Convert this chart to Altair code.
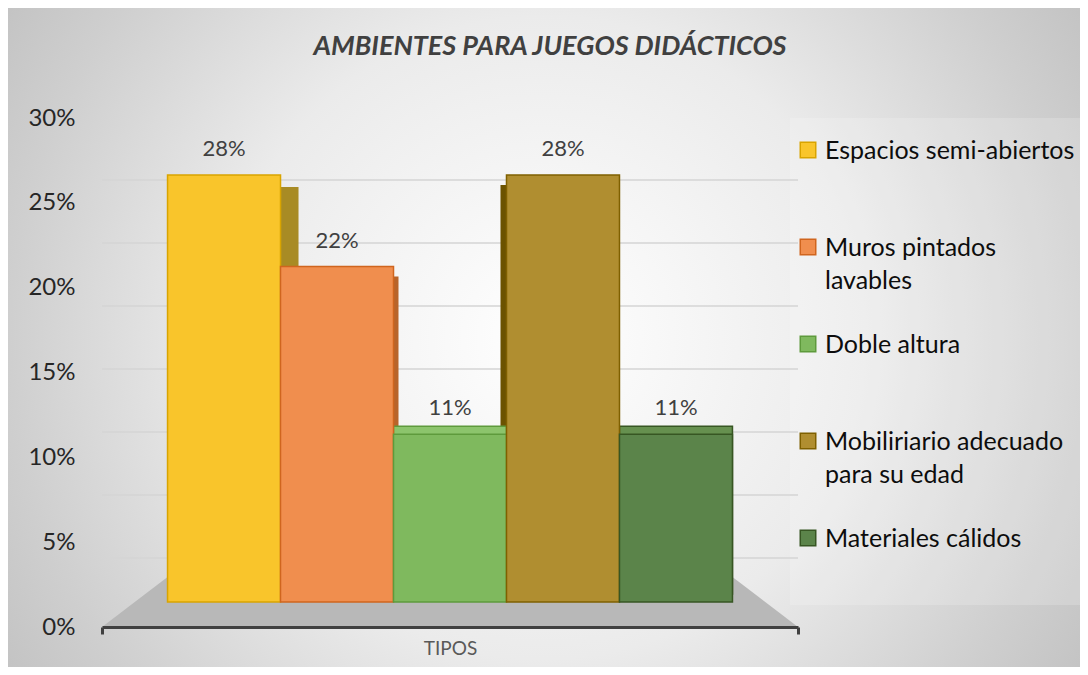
import altair as alt
import pandas as pd

# ---------------- data ----------------
titulo = "AMBIENTES PARA JUEGOS DIDÁCTICOS"
eje_x_titulo = "TIPOS"
tipos = [
    "Espacios semi-abiertos",
    "Muros pintados lavables",
    "Doble altura",
    "Mobiliriario adecuado para su edad",
    "Materiales cálidos",
]
etiquetas_leyenda = [
    "Espacios semi-abiertos",
    "Muros pintados\nlavables",
    "Doble altura",
    "Mobiliriario adecuado\npara su edad",
    "Materiales cálidos",
]
valores = [0.28, 0.22, 0.11, 0.28, 0.11]
ticks_y = [0, 0.05, 0.10, 0.15, 0.20, 0.25, 0.30]

# ---------------- styles ----------------
colores_frente = ["#F9C52B", "#F08E4E", "#7FB95E", "#B08E30", "#5B844A"]
colores_borde = ["#D9A400", "#D0651E", "#5E9A3C", "#7F6000", "#375623"]
colores_lado = ["#A88B24", "#B8642A", "#8CC46C", "#6B5200", "#66904F"]

W, H = 696, 509
FONT = "Lato"
N = len(tipos)
PAD_OUT = 0.58
X_MAX = N + 2 * PAD_OUT
dominio_eje = [0, 0.30]
dominio_barras = [-0.0164, 0.3174]   # 3D front-face scale
dominio_pared = [-0.0548, 0.3492]    # back-wall gridline scale
piso_alto = 0.0164

# frame of the whole chart, relative to the plot origin
FR_X0, FR_X1, FR_Y0, FR_Y1 = -94, 978, -110, 549

df = pd.DataFrame({"tipo": tipos, "leyenda": etiquetas_leyenda, "valor": valores})
df_uno = pd.DataFrame({"titulo": [titulo]})
df_ticks = pd.DataFrame({"t": ticks_y})

xs = alt.Scale(domain=[0, X_MAX], nice=False, zero=False)
x_axis = alt.Axis(
    values=[0, X_MAX], labels=False, title=eje_x_titulo, titleFontSize=19,
    titleFont=FONT, titleFontWeight="normal", titleColor="#595959", titlePadding=4,
    domainColor="#404040", domainWidth=3, tickColor="#404040", tickWidth=3,
    tickSize=7, grid=False, zindex=1,
)
ys_bar = alt.Scale(domain=dominio_barras, nice=False, zero=False)

# background with radial gradient
fondo = alt.Chart(df_uno).mark_rect(
    fill={
        "gradient": "radial", "x1": 0.5, "y1": 0.5, "x2": 0.5, "y2": 0.5,
        "r1": 0, "r2": 0.6,
        "stops": [
            {"offset": 0, "color": "#ffffff"},
            {"offset": 0.5, "color": "#ebebeb"},
            {"offset": 0.83, "color": "#cfcfcf"},
            {"offset": 1, "color": "#c2c2c2"},
        ],
    }
).encode(
    x=alt.value(FR_X0), x2=alt.value(FR_X1), y=alt.value(FR_Y0), y2=alt.value(FR_Y1)
)

# legend box
caja = alt.Chart(df_uno).mark_rect(fill="#ffffff", opacity=0.18).encode(
    x=alt.value(W - 8), x2=alt.value(FR_X1), y=alt.value(0), y2=alt.value(487)
)

# chart title as text
titulo_txt = alt.Chart(df_uno).mark_text(
    fontSize=27, font=FONT, fontStyle="italic", fontWeight="bold",
    color="#404040", align="center", baseline="middle",
).encode(x=alt.value(448), y=alt.value(-71), text="titulo:N")

# y axis (labels only)
eje = alt.Chart(df).mark_point(opacity=0).encode(
    y=alt.Y(
        "valor:Q",
        scale=alt.Scale(domain=dominio_eje, nice=False),
        axis=alt.Axis(
            values=ticks_y, format=".0%", title=None, domain=False, ticks=False,
            grid=False, labelFontSize=24, labelColor="#262626", labelFont=FONT,
            labelPadding=27, zindex=1,
        ),
    )
)

# back wall gridlines
pared = alt.Chart(df_ticks).mark_rule(color="#d4d4d4", strokeWidth=1.5).encode(
    y=alt.Y("t:Q", scale=alt.Scale(domain=dominio_pared, nice=False, zero=False), axis=None)
)

# floor
piso_df = pd.DataFrame({
    "px": [0, PAD_OUT, N + PAD_OUT, X_MAX],
    "arriba": [dominio_barras[0], piso_alto, piso_alto, dominio_barras[0]],
    "abajo": [dominio_barras[0]] * 4,
})
piso = alt.Chart(piso_df).mark_area(color="#b8b8b8").encode(
    x=alt.X("px:Q", scale=xs, axis=x_axis),
    y=alt.Y("arriba:Q", scale=ys_bar, axis=None),
    y2="abajo:Q",
)

color_lado = alt.Color("tipo:N", scale=alt.Scale(domain=tipos, range=colores_lado), legend=None)
color_frente = alt.Color("tipo:N", scale=alt.Scale(domain=tipos, range=colores_frente), legend=None)
stroke_borde = alt.Stroke("tipo:N", scale=alt.Scale(domain=tipos, range=colores_borde), legend=None)

base = alt.Chart(df).transform_window(
    idx="row_number()"
).transform_calculate(
    x0=f"datum.idx - 1 + {PAD_OUT}",
    x1=f"datum.idx + {PAD_OUT}",
    xc=f"datum.idx - 0.5 + {PAD_OUT}",
)
barra_enc = dict(
    x=alt.X("x0:Q", scale=xs, axis=x_axis),
    x2="x1:Q",
    y=alt.Y("valor:Q", scale=ys_bar, axis=None),
    y2=alt.datum(0),
)


def cara(indices, dx, dy, con_borde=False):
    capa = base.transform_filter(
        alt.FieldOneOfPredicate(field="tipo", oneOf=[tipos[i] for i in indices])
    )
    if con_borde:
        return capa.mark_bar(
            xOffset=dx, x2Offset=dx, yOffset=dy, y2Offset=dy, strokeWidth=1.5
        ).encode(color=color_lado, stroke=stroke_borde, **barra_enc)
    return capa.mark_bar(xOffset=dx, x2Offset=dx, yOffset=dy).encode(
        color=color_lado, **barra_enc
    )


lado_amarillo = cara([0], 18, 12)
lado_naranja = cara([1], 5, 10)
lado_oliva = cara([3], -6, 10)
tapa_verde = cara([2, 4], 0, -8, con_borde=True)

frente = base.mark_bar(strokeWidth=1.5).encode(
    color=color_frente, stroke=stroke_borde, **barra_enc
)

etiquetas = base.mark_text(
    dy=-26, fontSize=22, color="#404040", font=FONT, baseline="middle"
).encode(
    x=alt.X("xc:Q", scale=xs, axis=x_axis),
    y=alt.Y("valor:Q", scale=ys_bar, axis=None),
    text=alt.Text("valor:Q", format=".0%"),
)

# custom legend rows
y_ley = alt.Y("tipo:N", sort=tipos, axis=None,
              scale=alt.Scale(type="point", padding=0.624, align=0.264))
simbolos = alt.Chart(df).mark_square(size=240, strokeWidth=1.5, opacity=1).encode(
    x=alt.value(W + 10), y=y_ley, color=color_frente, stroke=stroke_borde
)
textos = alt.Chart(df).mark_text(
    align="left", baseline="alphabetic", dy=9, fontSize=25, font=FONT,
    color="#0d0d0d", lineBreak="\n", lineHeight=33,
).encode(x=alt.value(W + 27), y=y_ley, text="leyenda:N")

chart = alt.layer(
    fondo, caja, titulo_txt, eje, pared, piso,
    lado_amarillo, lado_naranja, lado_oliva, tapa_verde, frente, etiquetas,
    simbolos, textos,
).resolve_scale(
    y="independent", color="independent", stroke="independent"
).properties(
    width=W, height=H,
    padding={"top": 0, "left": 0, "right": 0, "bottom": 0},
    background="#ffffff",
).configure_view(stroke=None)

chart.save("out.html", embed_options={"renderer": "svg", "actions": False})
